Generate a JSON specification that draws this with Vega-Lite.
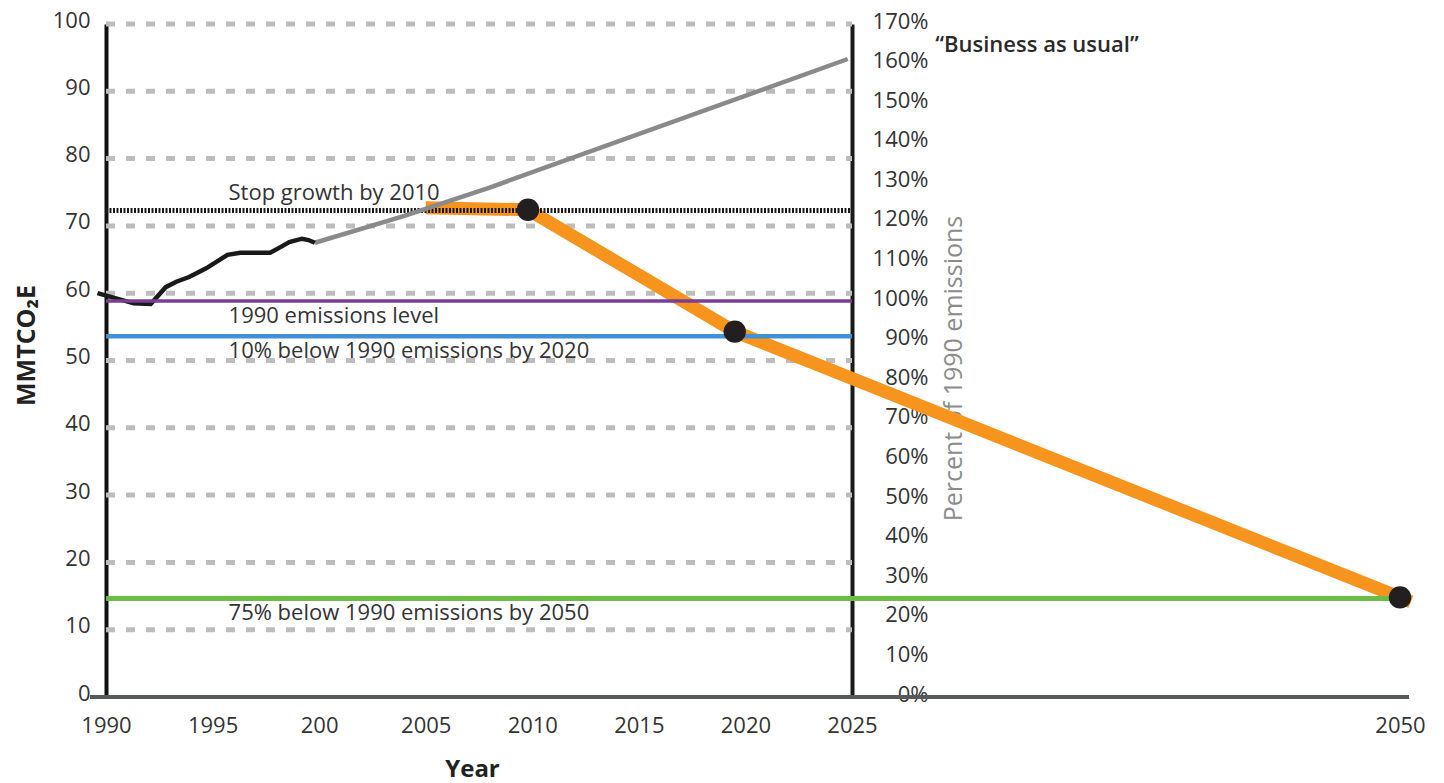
{
  "$schema": "https://vega.github.io/schema/vega-lite/v6.json",
  "width": 1294,
  "height": 673,
  "autosize": {"type": "none"},
  "padding": {"left": 106, "top": 24, "right": 44, "bottom": 86},
  "background": "white",
  "config": {
    "view": {"stroke": null},
    "font": "Open Sans",
    "axis": {"labelFont": "Open Sans", "titleFont": "Open Sans"},
    "text": {"font": "Open Sans"}
  },
  "datasets": {
    "grid": [{"v": 10}, {"v": 20}, {"v": 30}, {"v": 40}, {"v": 50}, {"v": 60}, {"v": 70}, {"v": 80}, {"v": 90}, {"v": 100}],
    "history": [
      {"yr": 1989.6, "v": 60.0}, {"yr": 1991.3, "v": 58.5}, {"yr": 1992.1, "v": 58.4}, {"yr": 1992.8, "v": 60.9},
      {"yr": 1993.3, "v": 61.7}, {"yr": 1993.9, "v": 62.4}, {"yr": 1994.7, "v": 63.7}, {"yr": 1995.7, "v": 65.7},
      {"yr": 1996.3, "v": 66.0}, {"yr": 1997.7, "v": 66.0}, {"yr": 1998.1, "v": 66.7}, {"yr": 1998.6, "v": 67.6},
      {"yr": 1999.2, "v": 68.1}, {"yr": 1999.5, "v": 67.9}, {"yr": 1999.8, "v": 67.5}
    ],
    "bau": [{"yr": 1999.8, "v": 67.5}, {"yr": 2004, "v": 71.5}, {"yr": 2008, "v": 75.7}, {"yr": 2024.8, "v": 94.8}],
    "path": [{"yr": 2005, "v": 72.7}, {"yr": 2009.8, "v": 72.4}, {"yr": 2019.5, "v": 54.3}, {"yr": 2050, "v": 14.8}, {"yr": 2050.5, "v": 14.15}],
    "milestones": [{"yr": 2009.8, "v": 72.4}, {"yr": 2019.5, "v": 54.3}, {"yr": 2050, "v": 14.8}],
    "targets": [
      {"target": "Stop growth by 2010", "v": 72.3, "from": 1990, "to": 2025},
      {"target": "10% below 1990 emissions by 2020", "v": 53.6, "from": 1990, "to": 2025},
      {"target": "75% below 1990 emissions by 2050", "v": 14.65, "from": 1990, "to": 2050}
    ],
    "baseline": [{"target": "1990 emissions level", "pct": 1.0, "from": 1990, "to": 2025}]
  },
  "layer": [
    {
      "data": {"name": "grid"},
      "mark": {"type": "rule", "color": "#bdbdbd", "strokeWidth": 5, "strokeDash": [9, 11]},
      "encoding": {
        "x": {"datum": 1990, "type": "quantitative", "scale": {"domain": [1990, 2025, 2050], "range": [0, 746, 1294]},
          "axis": {
            "values": [1990, 1995, 2000, 2005, 2010, 2015, 2020, 2025, 2050],
            "format": "d",
            "labelExpr": "datum.value == 2000 ? '200' : datum.label",
            "domain": false, "ticks": false, "grid": false,
            "labelPadding": 18, "labelFontSize": 22, "labelColor": "#333",
            "labelFlush": false, "labelOverlap": false,
            "title": "Year", "titleFontSize": 24, "titleFontWeight": "bold", "titleColor": "#222",
            "titleX": 366, "titleY": 84, "titleBaseline": "bottom", "titleAlign": "center"
          }},
        "x2": {"datum": 2025},
        "y": {"field": "v", "type": "quantitative", "scale": {"domain": [0, 100], "nice": false},
          "axis": {
            "values": [0, 10, 20, 30, 40, 50, 60, 70, 80, 90, 100],
            "grid": false, "ticks": false,
            "domainColor": "#111", "domainWidth": 4,
            "labelPadding": 16, "labelFontSize": 22, "labelColor": "#333", "labelOffset": -4,
            "title": "MMTCO₂E", "titleFontSize": 25, "titleFontWeight": "bold", "titleColor": "#222",
            "titleAngle": 270, "titleX": -80, "titleY": 321, "titleAlign": "center", "titleBaseline": "middle"
          }}
      }
    },
    {
      "data": {"name": "grid"},
      "mark": {"type": "rule", "color": "#58595b", "strokeWidth": 4},
      "encoding": {
        "x": {"datum": 1989.25, "type": "quantitative"},
        "x2": {"datum": 2050.4},
        "y": {"datum": 0, "type": "quantitative", "scale": {"domain": [0, 100], "nice": false}, "axis": null}
      }
    },
    {
      "data": {"name": "path"},
      "mark": {"type": "line", "color": "#f7941d", "strokeWidth": 13, "strokeCap": "butt"},
      "encoding": {
        "x": {"field": "yr", "type": "quantitative"},
        "y": {"field": "v", "type": "quantitative", "scale": {"domain": [0, 100], "nice": false}, "axis": null}
      }
    },
    {
      "data": {"name": "targets"},
      "transform": [{"filter": "datum.target == '10% below 1990 emissions by 2020'"}],
      "mark": {"type": "rule", "color": "#4190d8", "strokeWidth": 4.5},
      "encoding": {
        "x": {"field": "from", "type": "quantitative"},
        "x2": {"field": "to"},
        "y": {"field": "v", "type": "quantitative", "scale": {"domain": [0, 100], "nice": false}, "axis": null}
      }
    },
    {
      "data": {"name": "targets"},
      "transform": [{"filter": "datum.target == '75% below 1990 emissions by 2050'"}],
      "mark": {"type": "rule", "color": "#6cbd45", "strokeWidth": 5},
      "encoding": {
        "x": {"field": "from", "type": "quantitative"},
        "x2": {"field": "to"},
        "y": {"field": "v", "type": "quantitative", "scale": {"domain": [0, 100], "nice": false}, "axis": null}
      }
    },
    {
      "data": {"name": "targets"},
      "transform": [{"filter": "datum.target == 'Stop growth by 2010'"}],
      "mark": {"type": "rule", "color": "#1a1a1a", "strokeWidth": 5, "strokeDash": [2, 1.5]},
      "encoding": {
        "x": {"field": "from", "type": "quantitative"},
        "x2": {"field": "to"},
        "y": {"field": "v", "type": "quantitative", "scale": {"domain": [0, 100], "nice": false}, "axis": null}
      }
    },
    {
      "data": {"name": "bau"},
      "mark": {"type": "line", "color": "#8a8a8c", "strokeWidth": 4.5},
      "encoding": {
        "x": {"field": "yr", "type": "quantitative"},
        "y": {"field": "v", "type": "quantitative", "scale": {"domain": [0, 100], "nice": false}, "axis": null}
      }
    },
    {
      "data": {"name": "history"},
      "mark": {"type": "line", "color": "#1a1a1a", "strokeWidth": 4.5},
      "encoding": {
        "x": {"field": "yr", "type": "quantitative"},
        "y": {"field": "v", "type": "quantitative", "scale": {"domain": [0, 100], "nice": false}, "axis": null}
      }
    },
    {
      "data": {"name": "milestones"},
      "mark": {"type": "point", "filled": true, "size": 500, "color": "#231f20", "opacity": 1},
      "encoding": {
        "x": {"field": "yr", "type": "quantitative"},
        "y": {"field": "v", "type": "quantitative", "scale": {"domain": [0, 100], "nice": false}, "axis": null}
      }
    },
    {
      "data": {"name": "targets"},
      "transform": [{"filter": "datum.target == 'Stop growth by 2010'"}],
      "mark": {"type": "text", "align": "left", "baseline": "alphabetic", "dy": -10, "fontSize": 22, "color": "#333"},
      "encoding": {
        "x": {"datum": 1995.75, "type": "quantitative"},
        "y": {"field": "v", "type": "quantitative", "scale": {"domain": [0, 100], "nice": false}, "axis": null},
        "text": {"field": "target"}
      }
    },
    {
      "data": {"name": "targets"},
      "transform": [{"filter": "datum.target != 'Stop growth by 2010'"}],
      "mark": {"type": "text", "align": "left", "baseline": "alphabetic", "dy": 22, "fontSize": 22, "color": "#333"},
      "encoding": {
        "x": {"datum": 1995.75, "type": "quantitative"},
        "y": {"field": "v", "type": "quantitative", "scale": {"domain": [0, 100], "nice": false}, "axis": null},
        "text": {"field": "target"}
      }
    },
    {
      "data": {"name": "grid"},
      "transform": [{"filter": "datum.v == 100"}],
      "mark": {"type": "text", "align": "left", "baseline": "alphabetic", "fontSize": 22, "fontWeight": 600, "color": "#2a2a2a", "text": "“Business as usual”"},
      "encoding": {
        "x": {"datum": 2028.8, "type": "quantitative"},
        "y": {"datum": 95.8, "type": "quantitative", "scale": {"domain": [0, 100], "nice": false}, "axis": null}
      }
    },
    {
      "data": {"name": "baseline"},
      "mark": {"type": "rule", "color": "#7d3c98", "strokeWidth": 3.5},
      "encoding": {
        "x": {"field": "from", "type": "quantitative"},
        "x2": {"field": "to"},
        "y": {"field": "pct", "type": "quantitative", "scale": {"domain": [0, 1.7], "nice": false},
          "axis": {
            "orient": "right", "offset": -548,
            "values": [0, 0.1, 0.2, 0.3, 0.4, 0.5, 0.6, 0.7, 0.8, 0.9, 1.0, 1.1, 1.2, 1.3, 1.4, 1.5, 1.6, 1.7],
            "format": ".0%",
            "grid": false, "ticks": false,
            "domainColor": "#1a1a1a", "domainWidth": 4,
            "labelAlign": "right", "labelPadding": 76, "labelFontSize": 22, "labelColor": "#333", "labelOffset": -3,
            "title": "Percent of 1990 emissions", "titleFontSize": 25, "titleFontWeight": "normal", "titleColor": "#8c8c8c",
            "titleAngle": 270, "titleX": 101, "titleY": 344, "titleAlign": "center", "titleBaseline": "middle"
          }}
      }
    },
    {
      "data": {"name": "baseline"},
      "mark": {"type": "text", "align": "left", "baseline": "alphabetic", "dy": 22, "fontSize": 22, "color": "#333"},
      "encoding": {
        "x": {"datum": 1995.75, "type": "quantitative"},
        "y": {"field": "pct", "type": "quantitative", "scale": {"domain": [0, 1.7], "nice": false}, "axis": null},
        "text": {"field": "target"}
      }
    }
  ],
  "resolve": {"scale": {"y": "independent"}, "axis": {"y": "independent"}}
}
